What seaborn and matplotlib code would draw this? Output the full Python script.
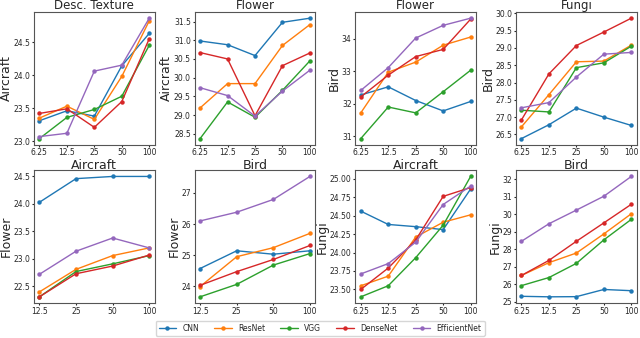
import numpy as np
import pandas as pd
import matplotlib
matplotlib.use("Agg")
import matplotlib.pyplot as plt
import seaborn as sns

models = ["CNN", "ResNet", "VGG", "DenseNet", "EfficientNet"]
x_full = ["6.25", "12.5", "25", "50", "100"]
x_short = ["12.5", "25", "50", "100"]

# top row
p1_title, p1_ylabel, p1_xlabel = "Desc. Texture", "Aircraft", "Aircraft"
p1_vals = [[23.31, 23.46, 23.38, 24.14, 24.63],
           [23.35, 23.53, 23.33, 23.98, 24.82],
           [23.04, 23.36, 23.48, 23.68, 24.45],
           [23.42, 23.49, 23.21, 23.60, 24.55],
           [23.07, 23.12, 24.06, 24.15, 24.86]]

p2_title, p2_ylabel, p2_xlabel = "Flower", "Aircraft", "Bird"
p2_vals = [[30.98, 30.88, 30.59, 31.48, 31.59],
           [29.19, 29.84, 29.84, 30.86, 31.42],
           [28.37, 29.35, 28.94, 29.66, 30.45],
           [30.67, 30.50, 28.98, 30.32, 30.66],
           [29.73, 29.52, 28.97, 29.64, 30.20]]

p3_title, p3_ylabel, p3_xlabel = "Flower", "Bird", "Aircraft"
p3_vals = [[32.27, 32.52, 32.10, 31.78, 32.07],
           [31.72, 32.97, 33.28, 33.80, 34.05],
           [30.93, 31.90, 31.72, 32.37, 33.03],
           [32.21, 32.88, 33.45, 33.67, 34.60],
           [32.41, 33.11, 34.02, 34.41, 34.63]]

p4_title, p4_ylabel, p4_xlabel = "Fungi", "Bird", "Bird"
p4_vals = [[26.38, 26.78, 27.26, 27.00, 26.76],
           [26.72, 27.65, 28.60, 28.62, 29.08],
           [27.20, 27.15, 28.43, 28.57, 29.05],
           [26.92, 28.25, 29.07, 29.46, 29.86],
           [27.27, 27.42, 28.16, 28.82, 28.87]]

# bottom row
p5_ylabel = "Flower"
p5_vals = [[24.03, 24.46, 24.50, 24.50],
           [22.40, 22.81, 23.06, 23.20],
           [22.31, 22.77, 22.91, 23.06],
           [22.31, 22.73, 22.87, 23.07],
           [22.72, 23.14, 23.38, 23.20]]

p6_ylabel = "Flower"
p6_vals = [[24.57, 25.14, 25.03, 25.14],
           [23.99, 24.95, 25.24, 25.70],
           [23.66, 24.06, 24.68, 25.05],
           [24.03, 24.47, 24.86, 25.31],
           [26.10, 26.38, 26.79, 27.53]]

p7_ylabel = "Fungi"
p7_vals = [[24.56, 24.38, 24.35, 24.31, 24.86],
           [23.55, 23.68, 24.21, 24.41, 24.51],
           [23.40, 23.55, 23.93, 24.37, 25.03],
           [23.50, 23.79, 24.17, 24.76, 24.88],
           [23.71, 23.85, 24.14, 24.65, 24.90]]

p8_ylabel = "Fungi"
p8_vals = [[25.31, 25.28, 25.29, 25.70, 25.63],
           [26.50, 27.23, 27.78, 28.87, 30.02],
           [25.92, 26.38, 27.19, 28.53, 29.70],
           [26.50, 27.36, 28.45, 29.50, 30.56],
           [28.45, 29.45, 30.23, 31.02, 32.15]]

panels = [
    (p1_vals, x_full, p1_title, p1_ylabel, p1_xlabel),
    (p2_vals, x_full, p2_title, p2_ylabel, p2_xlabel),
    (p3_vals, x_full, p3_title, p3_ylabel, p3_xlabel),
    (p4_vals, x_full, p4_title, p4_ylabel, p4_xlabel),
    (p5_vals, x_short, "", p5_ylabel, ""),
    (p6_vals, x_short, "", p6_ylabel, ""),
    (p7_vals, x_full, "", p7_ylabel, ""),
    (p8_vals, x_full, "", p8_ylabel, ""),
]

sns.set_style("white")
plt.rcParams['font.family'] = ['DejaVu Sans']
palette = sns.color_palette("tab10", 5)

fig, axes = plt.subplots(2, 4, figsize=(6.4, 3.38), dpi=100)
plt.subplots_adjust(left=0.053, right=0.995, top=0.964, bottom=0.104,
                    wspace=0.33, hspace=0.195)

for ax, (vals, xs, title, ylabel, xlabel) in zip(axes.flat, panels):
    rows = []
    for m, series in zip(models, vals):
        for x, v in zip(xs, series):
            rows.append({"size": x, "acc": v, "model": m})
    df = pd.DataFrame(rows)
    sns.lineplot(data=df, x="size", y="acc", hue="model", hue_order=models,
                 palette=palette, marker="o", markersize=3.2, markeredgewidth=0,
                 linewidth=1.0, sort=False, errorbar=None, ax=ax, legend=True)
    ax.set_title(title, fontsize=8.5, pad=2)
    ax.set_ylabel(ylabel, fontsize=9, labelpad=0.5)
    ax.set_xlabel(xlabel, fontsize=9, labelpad=1)
    ax.tick_params(axis="both", labelsize=5.5, length=1.5, pad=1.2, left=True, bottom=True)
    for s in ax.spines.values():
        s.set_color("#555555")
        s.set_linewidth(0.8)
    handles, labels = ax.get_legend_handles_labels()
    ax.get_legend().remove()

fig.legend(handles, labels, loc="lower center", bbox_to_anchor=(0.5, -0.005),
           ncol=5, fontsize=5.5, handlelength=2.3, columnspacing=2.0,
           frameon=True, borderpad=0.4)

fig.savefig("out.png", dpi=100)
